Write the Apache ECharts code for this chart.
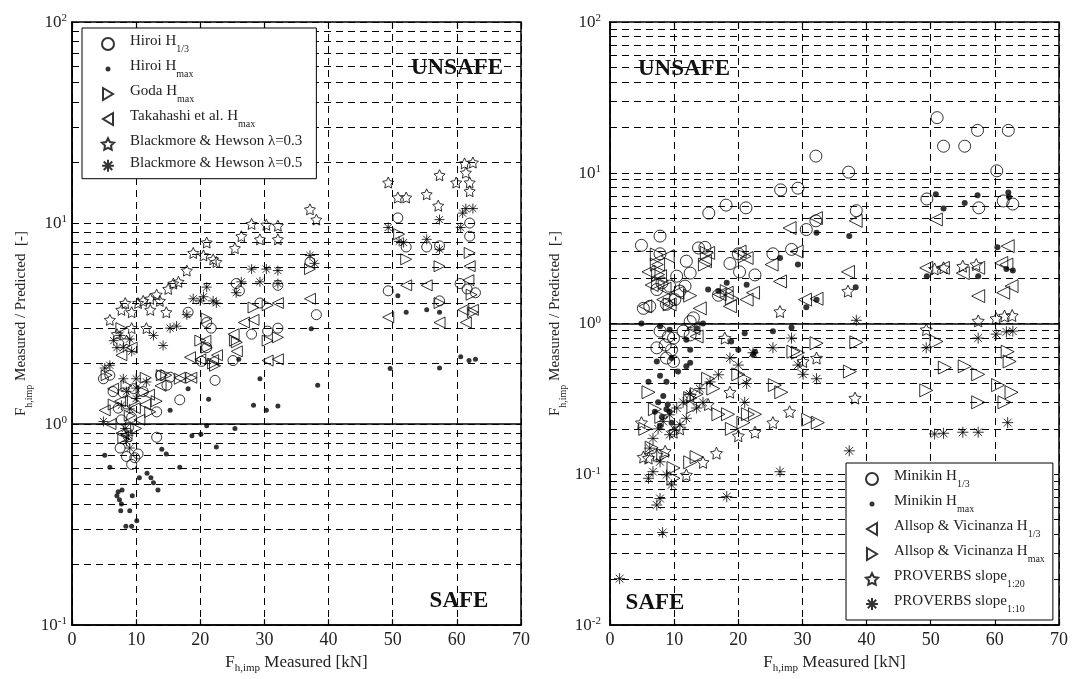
<!DOCTYPE html>
<html>
<head>
<meta charset="utf-8">
<title>Impact force: measured / predicted</title>
<script src="https://cdn.jsdelivr.net/npm/echarts@6/dist/echarts.min.js"></script>
<style>
html, body { margin: 0; padding: 0; background: #fff; }
#chart { width: 1072px; height: 679px; }
</style>
</head>
<body>
<div id="chart"></div>
<script>
// ---- left panel: [F measured kN, measured/predicted] ----
var hiroiH13 = [[50.8,10.6],[62,10.0],[62,8.6],[52.1,7.6],[55.3,7.6],[57.3,7.7],[37.1,6.4],[60.5,5.0],[61.6,4.7],[62.9,4.5],
  [49.3,4.6],[57.3,4.1],[32.1,4.9],[29.3,4.0],[38.1,3.5],[28,2.8],[30.5,2.9],[32.1,3.0],[25.1,2.07],[22.3,1.65],[25.6,5.0],
  [26.1,4.6],[21,3.2],[20.2,2.05],[18.1,3.6],[21.7,3.0],[21,2.4],[13.8,1.75],[14.8,1.56],[15.3,1.71],[16.8,1.32],[4.9,1.68],
  [5.9,1.75],[6.4,1.45],[8,1.43],[9.6,1.5],[11.1,1.45],[13.2,1.15],[13.2,0.86],[7.5,0.76],[8.5,0.69],[9.8,0.68],[9.3,0.63],
  [10.3,0.71],[7.7,1.05],[8.8,0.96],[9.3,1.08],[7.2,1.2]];
var hiroiHmax = [[37.3,2.98],[38.3,1.56],[50.8,4.35],[52.1,3.6],[55.3,3.7],[57.3,3.6],[60.6,2.16],[61.9,2.07],[62.9,2.1],
  [49.6,1.89],[57.3,1.9],[29.3,1.68],[21.3,1.33],[28.3,1.24],[30.3,1.17],[32.1,1.23],[26,2.1],[18.1,1.5],[15.3,1.17],[21,0.98],
  [20.1,0.89],[18.7,0.875],[22.5,0.77],[25.4,0.95],[14,0.75],[14.7,0.71],[16.8,0.61],[5.1,0.7],[5.9,0.61],[10.5,0.54],
  [11.7,0.57],[12.3,0.54],[12.7,0.51],[13.4,0.47],[7.2,0.46],[7.8,0.47],[7,0.44],[7.4,0.42],[9.4,0.44],[7.7,0.40],[7.6,0.37],
  [9,0.37],[8.4,0.31],[9.3,0.31],[10.1,0.33]];
var godaHmax = [[62,7.1],[57.3,6.1],[52.1,6.6],[51,8.8],[37.1,5.9],[62.3,4.4],[62.5,3.6],[57.3,4.0],[28.3,3.8],[30.5,3.9],
  [25.4,2.6],[30.5,2.6],[32.1,2.7],[21,3.35],[22.3,1.95],[25.7,2.55],[20,2.6],[21,2.4],[18.6,1.7],[14,1.75],[14.7,1.75],
  [16.8,1.68],[8.5,1.55],[11.1,1.45],[13.2,1.3],[12.2,1.15],[22,2.0],[7.7,3.0],[5.4,1.75],[6.5,1.25],[9,1.1],[10,0.95],
  [8,0.85],[9.5,1.3],[11.5,1.7]];
var takahashiHmax = [[62,6.1],[61.8,5.2],[52.1,4.9],[55.3,4.9],[49.3,3.4],[57.3,3.2],[61,3.7],[62.5,3.7],[61.4,3.2],[37.1,4.2],
  [32.1,4.0],[28.3,3.3],[26.8,3.2],[30.5,2.07],[32.1,2.1],[20.8,2.6],[22.6,2.2],[18.4,2.15],[20,2.1],[22,2.08],[16.8,1.7],
  [18.6,1.7],[25.7,2.3],[25.2,2.8],[5.1,1.17],[7.7,2.2],[9.3,2.4],[6.4,1.5],[7.5,1.3],[9.8,1.2],[11.4,1.25],[13.8,1.55],
  [7.7,0.9],[8.5,0.88],[6,1.0],[10.5,1.05],[12,1.4]];
var bhLambda03 = [[61.2,19.8],[62.5,20],[61.4,17.8],[59.9,15.9],[62,15.9],[62,14.4],[57.3,17.3],[49.3,15.9],[50.8,13.4],
  [52.1,13.4],[55.3,13.9],[57.1,12.2],[37.1,11.7],[38.1,10.4],[28,9.9],[30.3,9.8],[32.1,9.7],[26.4,8.6],[29.3,8.3],[32.1,8.3],
  [25.4,7.5],[21,8.0],[18.9,7.1],[20.5,6.9],[22,6.6],[22.5,6.4],[17.9,5.8],[16.6,5.1],[15.8,5.0],[15,4.7],[13.2,4.4],[12.2,4.2],
  [11.1,4.1],[10.3,4.0],[7.7,3.7],[9.3,3.6],[5.9,3.3],[12.2,3.7],[14.7,3.6],[13.7,4.1],[9.3,3.0],[11.6,3.0],[8.3,4.0],[7,2.8],
  [8.5,2.6]];
var bhLambda05 = [[61.4,11.8],[62.5,11.8],[60.9,11.2],[57.3,10.4],[49.3,9.5],[60.6,9.5],[51,8.1],[51.7,8.0],[55.3,8.3],
  [57.3,7.4],[37.1,6.9],[37.8,6.3],[28,5.9],[30.3,5.9],[32.1,5.8],[26.4,5.1],[29.3,5.1],[25.6,4.5],[32.1,5.0],[21,4.8],
  [20.5,4.3],[22,4.1],[22.5,4.0],[18.9,4.2],[20,4.1],[17.9,3.5],[15.3,3.0],[12.7,2.76],[14.2,2.46],[16.3,3.07],[7.5,2.76],
  [9,2.65],[8,2.4],[7,2.4],[9.3,2.3],[5.9,1.96],[5.1,1.9],[4.9,1.03],[8,1.68],[10,1.68],[11.6,1.62],[8.5,1.45],[10,1.34],
  [7.7,1.24],[9,1.19],[10,1.51],[8.3,0.95],[8.5,0.82],[9,0.76],[8.8,0.88],[6.5,2.6]];

// ---- right panel ----
var minikinH13 = [[51,23.2],[52,15],[55.3,15],[57.3,19.1],[62.1,19.1],[60.3,10.3],[32.1,12.9],[37.2,10.1],[26.6,7.7],[29.3,7.9],
  [15.4,5.4],[18.1,6.1],[21.2,5.85],[49.4,6.7],[57.5,5.85],[61.3,6.5],[62.8,6.2],[38.4,5.6],[32.1,4.8],[30.6,4.2],[7.8,3.8],
  [4.9,3.3],[7.8,2.9],[11.9,2.59],[10.4,2.06],[12.5,2.16],[11.7,1.77],[10.9,1.64],[9.3,1.77],[8.1,1.86],[7.3,1.68],[13.8,3.17],
  [14.8,3.2],[18.7,2.5],[20.2,2.2],[22.6,2.1],[20,2.9],[25.4,2.9],[28.3,3.1],[16.9,1.54],[6.2,1.3],[5.2,1.26],[8.8,1.34],
  [10.1,1.44],[12.5,1.03],[13,1.09],[7.8,0.89],[9.1,0.82],[9.9,0.8],[8.6,0.72],[9.6,0.67],[7.3,0.69],[11.4,0.89],[12.5,0.84],
  [8.8,0.59],[9.9,0.56]];
var minikinHmax = [[50.8,7.2],[52,5.8],[55.3,6.3],[57.3,7.1],[62.1,7.4],[62.2,6.9],[37.3,3.8],[60.4,3.2],[61.8,2.3],[62.8,2.25],
  [49.4,2.06],[57.4,2.06],[38.3,1.74],[4.9,1.0],[7.8,0.96],[9.3,0.91],[11.9,0.78],[12.5,0.67],[14.5,1.0],[13.5,0.93],[7.3,0.56],
  [9.6,0.59],[10.6,0.48],[11.9,0.52],[12.5,0.55],[6,0.41],[7.8,0.45],[8.8,0.41],[18.2,1.86],[21.3,1.81],[15.3,1.68],[16.9,1.64],
  [26.5,2.72],[29.3,2.46],[32.2,4.0],[30.6,1.28],[32.2,1.44],[25.4,0.89],[28.3,0.94],[21,0.86],[18.9,0.76],[20,0.67],[22.6,0.65],
  [22.3,0.62],[7.5,0.3],[8.8,0.27],[8.1,0.24],[9.6,0.22],[7.8,0.21],[9.3,0.26],[8.3,0.33],[9,0.29],[7,0.26]];
var allsopH13 = [[50.8,4.9],[38.3,4.8],[32.1,5.0],[62,3.26],[61,2.52],[61.8,2.46],[37.1,2.2],[49.3,2.34],[55,2.16],[57.4,1.52],
  [62.6,1.77],[61.3,1.6],[51.9,2.34],[57.4,2.34],[6,2.2],[7.5,2.46],[7.8,2.06],[5.5,1.3],[9.3,1.34],[14,1.26],[8.3,1.44],
  [14.8,2.59],[15.3,2.94],[20.2,3.0],[21.3,2.72],[17.1,1.56],[18.2,1.6],[18.7,1.3],[21.3,1.44],[22.3,1.6],[25.2,2.46],[26.5,1.9],
  [28,4.3],[29.1,3.0],[30.4,1.44],[32.2,1.46],[13,0.93],[13.5,0.82],[6.5,1.8],[8.5,1.7],[10.5,1.6],[9,2.8]];
var allsopHmax = [[38.4,0.75],[50.9,0.76],[52.2,0.51],[55.3,0.52],[57.4,0.46],[62,0.65],[62.3,0.56],[49.3,0.36],[60.5,0.39],
  [62.6,0.35],[61.5,0.30],[57.4,0.30],[37.4,0.48],[7.3,2.46],[7.5,2.11],[7.5,1.86],[7.3,2.87],[15.1,2.94],[14.8,2.46],[21,2.79],
  [18.2,1.64],[19,1.47],[9.3,1.34],[12.5,1.53],[32.2,0.74],[28.6,0.65],[29.3,0.64],[25.7,0.39],[26.7,0.35],[30.9,0.23],
  [32.4,0.22],[20,0.46],[21,0.43],[16.9,0.25],[18.4,0.25],[21.5,0.25],[22.6,0.25],[19,0.2],[20.8,0.22],[15.3,0.43],[16.1,0.37],
  [12.5,0.32],[13,0.28],[13.5,0.34],[6,0.35],[5.5,0.2],[6.5,0.15],[8.3,0.134],[9.9,0.11],[12.5,0.12],[13.5,0.13],[9.9,0.094],
  [7,0.27],[8,0.24]];
var proverbs120 = [[37.1,1.64],[50.6,2.3],[52,2.34],[55,2.4],[57.1,2.46],[57.4,1.04],[60.2,1.08],[61.5,1.12],[62.7,1.13],
  [38.2,0.32],[49.3,0.91],[26.5,1.2],[17.9,0.8],[18.7,0.35],[15.3,0.29],[12.5,0.33],[28,0.26],[25.4,0.22],[22.6,0.19],[20,0.18],
  [4.9,0.22],[16.6,0.138],[14.5,0.12],[11.9,0.099],[6,0.128],[7.3,0.134],[8.6,0.142],[32.2,0.59],[30.1,0.56],[10.9,0.2],
  [9.9,0.19],[5.2,0.13]];
var proverbs110 = [[38.4,1.05],[49.3,0.69],[57.4,0.8],[60.2,0.85],[61.8,0.88],[62.8,0.89],[50.6,0.185],[52,0.187],[55,0.19],
  [57.4,0.19],[62,0.22],[37.3,0.143],[16.9,0.457],[15.6,0.41],[14,0.37],[12.5,0.34],[11.4,0.30],[10.4,0.275],[9.3,0.248],
  [8.3,0.224],[7.5,0.2],[6.7,0.173],[6.2,0.149],[7.8,0.121],[8.8,0.099],[9.6,0.085],[7.8,0.069],[7.3,0.0625],[6,0.094],
  [6.7,0.104],[21,0.30],[21.3,0.40],[20,0.53],[18.7,0.59],[22.3,0.64],[25.4,0.69],[28.3,0.8],[29.3,0.53],[30.1,0.46],
  [32.2,0.43],[26.5,0.104],[18.2,0.071],[14.5,0.30],[13.5,0.275],[11.9,0.235],[10.9,0.213],[10.1,0.197],[9.3,0.183],
  [8.2,0.041],[1.5,0.0203]];

var leftNames = ['Hiroi H1/3', 'Hiroi Hmax', 'Goda Hmax', 'Takahashi et al. Hmax', 'Blackmore & Hewson λ=0.3', 'Blackmore & Hewson λ=0.5'];
var rightNames = ['Minikin H1/3', 'Minikin Hmax', 'Allsop & Vicinanza H1/3', 'Allsop & Vicinanza Hmax', 'PROVERBS slope1:20', 'PROVERBS slope1:10'];
var legendText = {
    'Hiroi H1/3': '{t|Hiroi H}{s|1/3}',
    'Hiroi Hmax': '{t|Hiroi H}{s|max}',
    'Goda Hmax': '{t|Goda H}{s|max}',
    'Takahashi et al. Hmax': '{t|Takahashi et al. H}{s|max}',
    'Blackmore & Hewson λ=0.3': '{t|Blackmore & Hewson λ=0.3}',
    'Blackmore & Hewson λ=0.5': '{t|Blackmore & Hewson λ=0.5}',
    'Minikin H1/3': '{t|Minikin H}{s|1/3}',
    'Minikin Hmax': '{t|Minikin H}{s|max}',
    'Allsop & Vicinanza H1/3': '{t|Allsop & Vicinanza H}{s|1/3}',
    'Allsop & Vicinanza Hmax': '{t|Allsop & Vicinanza H}{s|max}',
    'PROVERBS slope1:20': '{t|PROVERBS slope}{s|1:20}',
    'PROVERBS slope1:10': '{t|PROVERBS slope}{s|1:10}'
};

var FONT = '"Liberation Serif", "DejaVu Serif", serif';
var STAR = 'path://M0,-10L2.94,-4.05L9.51,-3.09L4.76,1.55L5.88,8.09L0,5L-5.88,8.09L-4.76,1.55L-9.51,-3.09L-2.94,-4.05Z';
var AST = 'path://M0,-10L0,10M-10,0L10,0M-7.07,-7.07L7.07,7.07M-7.07,7.07L7.07,-7.07';
var TRI_R = 'path://M0,0L10,6L0,12Z';
var TRI_L = 'path://M10,0L0,6L10,12Z';
// small dot for the legend, padded with bare moves so it draws smaller than the box
var DOT = 'path://M-2.4,-2.4M2.4,2.4M-1,0A1,1 0 1,0 1,0A1,1 0 1,0 -1,0Z';
var DASH = [7, 5];

function scatter(name, data, g, symbol, size, filled) {
    return {
        name: name, type: 'scatter', xAxisIndex: g, yAxisIndex: g,
        data: data, symbol: symbol, symbolSize: size,
        itemStyle: filled ? {color: '#000'} : {color: 'rgba(0,0,0,0)', borderColor: '#000', borderWidth: 1},
        emphasis: {disabled: true}, silent: true, animation: false
    };
}

// dashed lines at 2..9 of every decade, solid one at 10^0
function gridLines(lo, hi) {
    var out = [];
    for (var d = lo; d < hi * 0.99; d *= 10) {
        for (var k = 2; k <= 9; k++) out.push({yAxis: +(k * d).toPrecision(3)});
    }
    out.push({yAxis: 1, lineStyle: {type: 'solid', width: 1.6}});
    return {
        silent: true, symbol: 'none', z: 1, animation: false,
        label: {show: false},
        lineStyle: {type: DASH, color: '#000', width: 1},
        data: out
    };
}

function pow10(v) {
    var e = Math.round(Math.log(v) / Math.LN10);
    return '{b|10}{e|' + e + '}';
}
var powRich = {
    b: {fontSize: 17, fontFamily: FONT, color: '#222', lineHeight: 18, verticalAlign: 'bottom'},
    e: {fontSize: 11, fontFamily: FONT, color: '#222', lineHeight: 12, padding: [0, 0, 8, 0], verticalAlign: 'top'}
};
var subRich = function (size) {
    return {
        f: {fontSize: size, fontFamily: FONT, color: '#222', lineHeight: 20, verticalAlign: 'top'},
        s: {fontSize: Math.round(size * 0.65), fontFamily: FONT, color: '#222', lineHeight: 10, verticalAlign: 'bottom'}
    };
};

function xAxis(g, pos) {
    var bottom = pos === 'bottom';
    return {
        gridIndex: g, type: 'value', position: pos, min: 0, max: 70, interval: 10,
        axisLine: {show: bottom, lineStyle: {color: '#000', width: 1.5}},
        axisTick: {inside: true, length: 6, lineStyle: {color: '#000', width: 1.2}},
        axisLabel: {show: bottom, fontSize: 18, fontFamily: FONT, color: '#222', margin: 6},
        splitLine: {show: bottom, lineStyle: {type: DASH, color: '#000', width: 1}},
        name: bottom ? '{f|F}{s|h,imp}{f| Measured [kN]}' : '',
        nameLocation: 'middle', nameGap: 22,
        nameTextStyle: {rich: subRich(17)}
    };
}

function yAxis(g, lo, gap, margin) {
    return {
        gridIndex: g, type: 'log', logBase: 10, min: lo, max: 100,
        axisLine: {lineStyle: {color: '#000', width: 1.5}},
        axisTick: {show: false},
        axisLabel: {formatter: pow10, rich: powRich, margin: margin},
        splitLine: {lineStyle: {type: DASH, color: '#000', width: 1}},
        name: '{f|F}{s|h,imp}{f| Measured / Predicted  [-]}',
        nameLocation: 'middle', nameGap: gap,
        nameTextStyle: {rich: subRich(15)}
    };
}

function legend(names, left, top, gap, padRight) {
    return {
        data: names.map(function (n) {
            return n.indexOf('max') > 0 && (n.indexOf('Hiroi') === 0 || n.indexOf('Minikin') === 0)
                ? {name: n, icon: DOT} : {name: n};
        }),
        orient: 'vertical', left: left, top: top,
        padding: [6, padRight, 6, 19], itemGap: gap, itemWidth: 12, itemHeight: 12,
        backgroundColor: '#fff', borderColor: '#000', borderWidth: 1,
        selectedMode: false,
        formatter: function (n) { return legendText[n]; },
        textStyle: {
            fontFamily: FONT, fontSize: 15, color: '#222',
            rich: {
                t: {fontFamily: FONT, fontSize: 15, color: '#222', lineHeight: 20, verticalAlign: 'top', padding: [0, 0, 0, 11]},
                s: {fontFamily: FONT, fontSize: 10, color: '#222', lineHeight: 10, verticalAlign: 'bottom'}
            }
        }
    };
}

function label(text, x, y) {
    return {
        type: 'text', x: x, y: y, z: 10, silent: true,
        style: {text: text, font: 'bold 23px ' + FONT, fill: '#111', align: 'center', verticalAlign: 'middle'}
    };
}

var leftSeries = scatter(leftNames[0], hiroiH13, 0, 'circle', 10, false);
leftSeries.markLine = gridLines(0.1, 100);
var rightSeries = scatter(rightNames[0], minikinH13, 1, 'circle', 12, false);
rightSeries.markLine = gridLines(0.01, 100);

var option = {
    backgroundColor: '#fff',
    animation: false,
    grid: [
        {left: 72, top: 22, width: 449, height: 604, show: true, borderColor: '#000', borderWidth: 1.5},
        {left: 610, top: 22, width: 449, height: 603, show: true, borderColor: '#000', borderWidth: 1.5}
    ],
    xAxis: [xAxis(0, 'bottom'), xAxis(1, 'bottom'), xAxis(0, 'top'), xAxis(1, 'top')],
    yAxis: [yAxis(0, 0.1, 38, 5), yAxis(1, 0.01, 42, 9)],
    legend: [legend(leftNames, 82, 28, 5, 14), legend(rightNames, 846, 463, 5, 8)],
    graphic: [
        label('UNSAFE', 457, 68), label('SAFE', 459, 601),
        label('UNSAFE', 684, 69), label('SAFE', 655, 603)
    ],
    series: [
        leftSeries,
        scatter(leftNames[1], hiroiHmax, 0, 'circle', 5, true),
        scatter(leftNames[2], godaHmax, 0, TRI_R, 11, false),
        scatter(leftNames[3], takahashiHmax, 0, TRI_L, 11, false),
        scatter(leftNames[4], bhLambda03, 0, STAR, 11, false),
        scatter(leftNames[5], bhLambda05, 0, AST, 10, false),
        rightSeries,
        scatter(rightNames[1], minikinHmax, 1, 'circle', 6, true),
        scatter(rightNames[2], allsopH13, 1, TRI_L, 13, false),
        scatter(rightNames[3], allsopHmax, 1, TRI_R, 13, false),
        scatter(rightNames[4], proverbs120, 1, STAR, 12, false),
        scatter(rightNames[5], proverbs110, 1, AST, 11, false)
    ]
};

var myChart = echarts.init(document.getElementById('chart'));
myChart.setOption(option);
</script>
</body>
</html>
